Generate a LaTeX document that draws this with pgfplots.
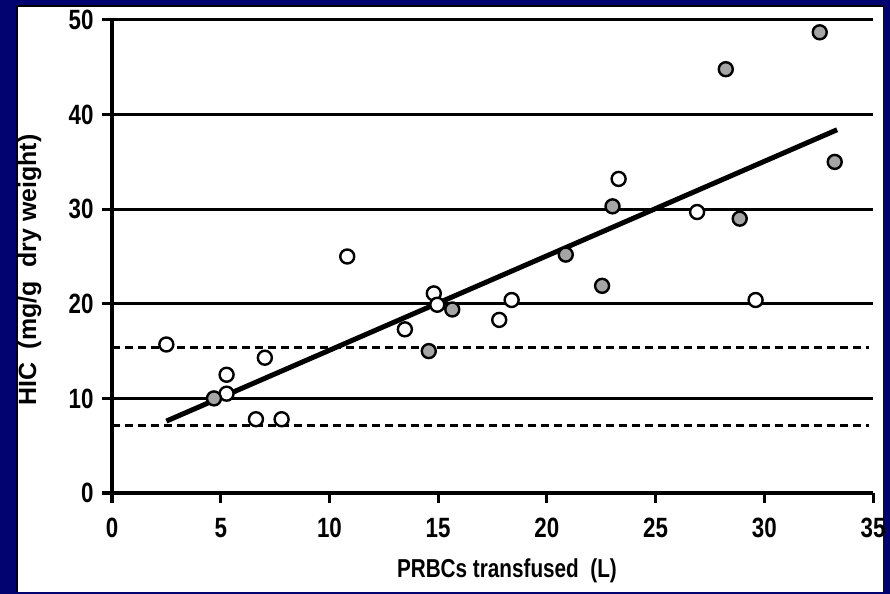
\documentclass[border=0pt]{standalone}
\usepackage{pgfplots}
\pgfplotsset{compat=1.18}
\usepackage{fontspec}
\setmainfont{Liberation Sans}
\newfontfamily\nb{Liberation Sans}[FakeStretch=0.8]
\definecolor{navy}{RGB}{2,2,112}
\definecolor{ptgray}{RGB}{165,165,165}
\begin{document}
\begin{tikzpicture}
\fill[navy] (0,0) rectangle (890bp,594bp);
\fill[black] (16bp,2bp) rectangle (883bp,589bp);
\fill[white] (18bp,2bp) rectangle (883bp,587bp);
\begin{axis}[
  at={(112bp,101bp)}, anchor=south west,
  scale only axis, width=761bp, height=473bp,
  xmin=0, xmax=35, ymin=0, ymax=50,
  axis x line=bottom, axis y line=left,
  axis line style={line width=3bp, -, black},
  xtick={0,5,...,35}, ytick={0,10,...,50},
  tick align=outside, major tick length=10bp,
  tick style={line width=3bp, black},
  ymajorgrids, grid style={line width=3bp, black},
  /pgf/number format/assume math mode=true,
  tick label style={font=\nb\bfseries\fontsize{28}{28}\selectfont},
  xticklabel style={yshift=-12bp},
  yticklabel style={xshift=-5bp},
  xlabel={PRBCs transfused\ \ (L)},
  ylabel={HIC\ \ (mg/g\ \ dry weight)},
  xlabel style={at={(axis description cs:0.519,-0.165)}, anchor=center, font=\nb\bfseries\fontsize{26}{26}\selectfont},
  ylabel style={at={(axis description cs:-0.108,0.471)}, anchor=center, rotate=0, font=\bfseries\fontsize{25}{25}\selectfont},
  clip=false,
]
\addplot[line width=3.2bp, dash pattern=on 8bp off 5bp, black] coordinates {(0,15.4) (34.8,15.4)};
\addplot[line width=3.2bp, dash pattern=on 8bp off 5bp, black] coordinates {(0,7.1) (34.8,7.1)};
\addplot[line width=5bp, black] coordinates {(2.5,7.6) (33.35,38.4)};
\addplot[only marks, mark=*, mark size=7bp, mark options={line width=2.4bp, draw=black, fill=white}] coordinates {
(2.5,15.7) (5.27,12.5) (5.27,10.5) (7.03,14.3) (6.62,7.8) (7.8,7.8) (10.82,25.0) (13.47,17.3) (14.8,21.1) (14.96,19.9) (17.81,18.3) (18.38,20.4) (23.3,33.2) (26.91,29.7) (29.6,20.4)
};
\addplot[only marks, mark=*, mark size=7bp, mark options={line width=2.4bp, draw=black, fill=ptgray}] coordinates {
(4.69,10.0) (14.57,15.0) (15.65,19.4) (20.87,25.2) (22.54,21.9) (23.02,30.3) (28.23,44.8) (28.87,29.0) (32.55,48.7) (33.24,35.0)
};
\end{axis}
\end{tikzpicture}
\end{document}
